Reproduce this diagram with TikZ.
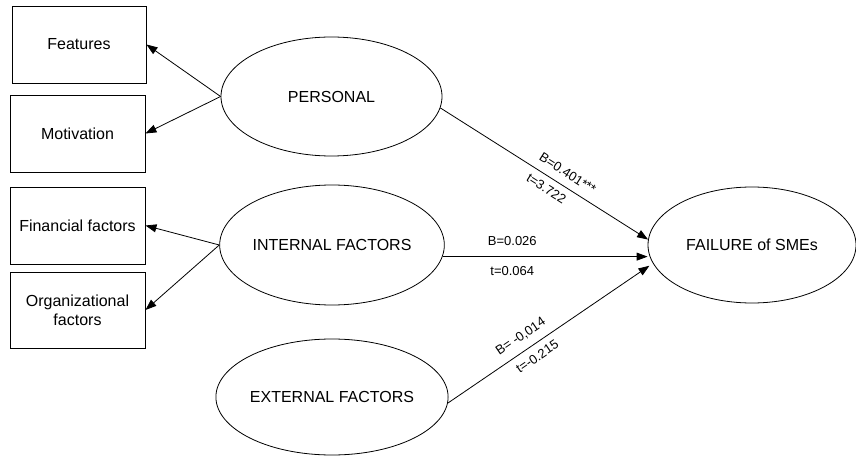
\documentclass[tikz,border=0pt]{standalone}
\usepackage{fontspec}
\setmainfont{Liberation Sans}
\usetikzlibrary{shapes.geometric,arrows.meta}
\begin{document}
\begin{tikzpicture}[x=1pt,y=-1pt,
  box/.style={draw, line width=0.9pt, rectangle, inner sep=0pt, align=center,
    font=\fontsize{16}{19}\selectfont},
  oval/.style={draw, line width=0.8pt, ellipse, inner sep=0pt,
    font=\fontsize{16}{19}\selectfont},
  arr/.style={line width=0.8pt, -{Triangle[length=11pt,width=8pt]}},
  lbl/.style={font=\fontsize{13}{15}\selectfont, inner sep=0pt, sloped}]
\useasboundingbox (0,0) rectangle (856,457);
% boxes
\node[box, minimum width=134pt, minimum height=77pt] (feat) at (79,44.5) {Features};
\node[box, minimum width=135pt, minimum height=77pt] (mot) at (77.5,133.5) {Motivation};
\node[box, minimum width=135pt, minimum height=77pt] (fin) at (77.5,225.5) {Financial factors};
\node[box, minimum width=135pt, minimum height=76pt] (org) at (77.5,310) {Organizational\\factors};
% ellipses
\node[oval, minimum width=221pt, minimum height=119pt] (per) at (331.5,96.5) {PERSONAL};
\node[oval, minimum width=220pt, minimum height=120pt] (int) at (332,245) {INTERNAL FACTORS};
\node[oval, minimum width=220pt, minimum height=116pt] (ext) at (332,397) {EXTERNAL FACTORS};
\node[oval, minimum width=208pt, minimum height=116pt] (fail) at (752,245) {FAILURE of SMEs};
% indicator arrows
\draw[arr] (per.west) -- (feat.east);
\draw[arr] (per.west) -- (mot.east);
\draw[arr] (int.west) -- (fin.east);
\draw[arr] (int.west) -- (org.east);
% path arrows
\draw[arr] (per.-6) -- (fail.177)
  node[lbl, pos=0.58, above=8pt] {B=0.401***}
  node[lbl, pos=0.54, below=6.5pt] {t=3.722};
\draw[arr] (int.-6) -- (fail.west |- int.-6)
  node[lbl, pos=0.34, above=11pt] {B=0.026}
  node[lbl, pos=0.34, below=9.5pt] {t=0.064};
\draw[arr] (ext.-3) -- ([xshift=-5pt]fail.192)
  node[lbl, pos=0.40, above=8pt] {B= -0,014}
  node[lbl, pos=0.41, below=7pt] {t=-0.215};
\end{tikzpicture}
\end{document}
